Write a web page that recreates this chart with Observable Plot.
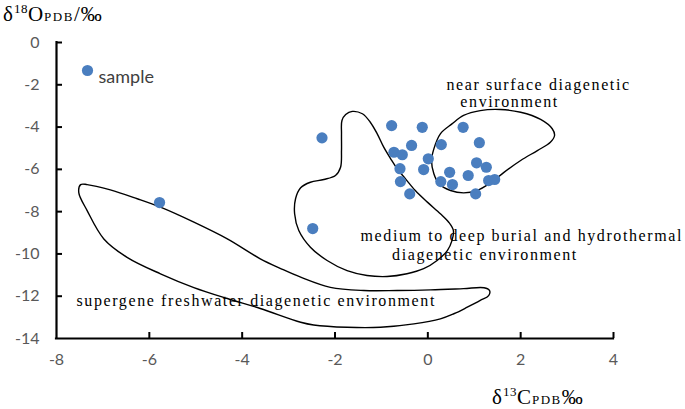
<!DOCTYPE html>
<html><head><meta charset="utf-8">
<script src="https://cdn.jsdelivr.net/npm/d3@7"></script>
<script src="https://cdn.jsdelivr.net/npm/@observablehq/plot@0.6"></script>
<style>body{margin:0;background:#fff} svg{display:block}</style>
</head><body><div id="chart"></div>
<script>
// sample points (δ13C, δ18O)
const sampleC = [-5.78,-2.48,-2.28,-0.78,-0.12,0.76,-0.35,0.29,1.11,-0.73,-0.55,0.01,1.05,1.26,-0.60,-0.09,0.47,0.87,-0.59,0.28,0.53,1.31,1.44,-0.39,1.03];
const sampleO = [-7.57,-8.80,-4.51,-3.93,-4.01,-4.01,-4.87,-4.83,-4.74,-5.19,-5.31,-5.50,-5.69,-5.90,-5.97,-6.01,-6.14,-6.29,-6.58,-6.58,-6.72,-6.53,-6.48,-7.16,-7.16];

// region outlines
const nearSurfaceC = [0.52,0.77,1.13,1.56,2.00,2.43,2.68,2.73,2.64,2.36,2.00,1.64,1.35,1.06,0.77,0.49,0.24,0.13,0.08,0.13,0.27];
const nearSurfaceO = [-3.85,-3.45,-3.22,-3.17,-3.30,-3.64,-4.08,-4.40,-4.72,-5.11,-5.58,-6.14,-6.64,-7.00,-7.11,-7.00,-6.68,-6.21,-5.58,-5.03,-4.32];

const burialC = [-1.77,-1.63,-1.41,-1.24,-1.09,-0.95,-0.80,-0.66,-0.48,-0.27,-0.01,0.27,0.45,0.55,0.52,0.42,0.20,-0.09,-0.45,-0.88,-1.31,-1.74,-2.17,-2.53,-2.78,-2.87,-2.85,-2.74,-2.53,-2.24,-1.99,-1.88,-1.86,-1.86,-1.85];
const burialO = [-3.41,-3.26,-3.37,-3.77,-4.32,-4.95,-5.50,-5.97,-6.45,-7.00,-7.55,-8.10,-8.50,-8.89,-9.37,-9.84,-10.31,-10.70,-10.94,-11.07,-11.02,-10.79,-10.31,-9.68,-8.89,-8.10,-7.39,-6.87,-6.61,-6.48,-6.29,-5.90,-5.11,-4.32,-3.69];

const supergeneC = [-7.48,-7.34,-6.84,-6.26,-5.76,-5.04,-4.32,-3.61,-3.17,-2.74,-2.10,-1.38,-0.66,0.06,0.77,1.21,1.33,1.31,1.13,0.85,0.56,0.27,-0.30,-1.02,-1.74,-2.46,-2.74,-3.61,-4.32,-5.04,-5.76,-6.48,-6.98,-7.34,-7.52];
const supergeneO = [-6.72,-6.72,-6.97,-7.39,-7.79,-8.50,-9.29,-10.23,-10.69,-11.10,-11.58,-11.73,-11.73,-11.70,-11.64,-11.60,-11.73,-11.97,-12.20,-12.52,-12.83,-13.07,-13.31,-13.47,-13.47,-13.36,-13.23,-12.58,-12.11,-11.59,-10.94,-10.16,-9.29,-7.95,-7.10];

// region labels (text, anchor δ13C, anchor δ18O)
const labelTexts = ["near surface diagenetic","environment","medium to deep burial and hydrothermal","diagenetic environment","supergene freshwater diagenetic environment"];
const labelC = [0.40,0.70,-1.45,-0.77,-7.57];
const labelO = [-2.24,-3.06,-9.40,-10.28,-12.44];

const xTicks = [-8,-6,-4,-2,0,2,4];
const yTicks = [0,-2,-4,-6,-8,-10,-12,-14];
const seriesName = "sample";

const toPts = (xs, ys) => xs.map((x, i) => ({x, y: ys[i]}));
const samples = toPts(sampleC, sampleO);
const regions = [
  ...toPts(nearSurfaceC, nearSurfaceO).map(d => ({...d, r: "near"})),
  ...toPts(burialC, burialO).map(d => ({...d, r: "burial"})),
  ...toPts(supergeneC, supergeneO).map(d => ({...d, r: "supergene"}))
];
const labels = labelTexts.map((t, i) => ({t, x: labelC[i], y: labelO[i]}));

const W = 685, H = 409, mL = 56, mR = 72, mT = 42, mB = 71;
const tickLenX = 6 * 14 / (H - mT - mB);   // 6px in y data units
const tickLenY = 6 * 12 / (W - mL - mR);   // 6px in x data units
const blue = "#4a7ebf";
const fmt = d => String(d);

const svg = Plot.plot({
  width: W, height: H,
  marginLeft: mL, marginRight: mR, marginTop: mT, marginBottom: mB,
  x: {domain: [-8, 4]},
  y: {domain: [-14, 0]},
  style: {fontFamily: "Lato, sans-serif", background: "white"},
  marks: [
    Plot.axisX(xTicks, {tickSize: 0, tickPadding: 15, fontSize: 16, color: "#595959", label: null, tickFormat: fmt}),
    Plot.axisY(yTicks, {tickSize: 0, tickPadding: 17, fontSize: 16, color: "#595959", label: null, tickFormat: fmt}),
    Plot.ruleX(xTicks.slice(1), {x: d => d, y1: -14, y2: -14 + tickLenX, stroke: "black", strokeWidth: 2}),
    Plot.ruleY(yTicks.slice(0, -1), {y: d => d, x1: -8, x2: -8 + tickLenY, stroke: "black", strokeWidth: 2}),
    Plot.ruleX([-8], {stroke: "black", strokeWidth: 2.2, strokeLinecap: "square"}),
    Plot.ruleY([-14], {stroke: "black", strokeWidth: 2.2, strokeLinecap: "square"}),
    Plot.line(regions, {x: "x", y: "y", z: "r", curve: "catmull-rom-closed", stroke: "black", strokeWidth: 1.4}),
    Plot.dot(samples, {x: "x", y: "y", r: 5.6, fill: blue, stroke: "none"}),
    Plot.text(labels, {x: "x", y: "y", text: "t", textAnchor: "start", lineAnchor: "bottom", fontFamily: "Liberation Serif, serif", fontSize: 16, fill: "black"}),
    // legend
    Plot.dot([seriesName], {frameAnchor: "top-left", dx: 31, dy: 28, r: 5.6, fill: blue}),
    Plot.text([seriesName], {frameAnchor: "top-left", dx: 42, dy: 28, text: d => d, textAnchor: "start", fontSize: 18, fill: "#404040"})
  ]
});

d3.select(svg).selectAll('g[aria-label="text"]').filter(function(){ const f = this.getAttribute("font-family"); return f && f.includes("Serif"); })
  .style("letter-spacing", "1.6px");

function axisTitle(x, y, parts) {
  const t = d3.select(svg).append("text")
    .attr("x", x).attr("y", y).attr("text-anchor", "start")
    .attr("font-family", "Liberation Serif, serif").attr("font-size", 21).attr("fill", "black");
  for (const [s, size, dy, ls] of parts) t.append("tspan").attr("font-size", size).attr("dy", dy).style("letter-spacing", ls + "px").text(s);
}
axisTitle(3, 21, [["δ", 21, 0, 1], ["18", 13, -8, 0.5], ["O", 21, 8, 1], ["PDB", 13, 0, 1.5], ["/‰", 21, 0, 1]]);
axisTitle(492, 404, [["δ", 21, 0, 1], ["13", 13, -8, 0.5], ["C", 21, 8, 1], ["PDB", 13, 0, 1.5], ["‰", 21, 0, 1]]);

document.getElementById("chart").appendChild(svg);
</script>
</body></html>
